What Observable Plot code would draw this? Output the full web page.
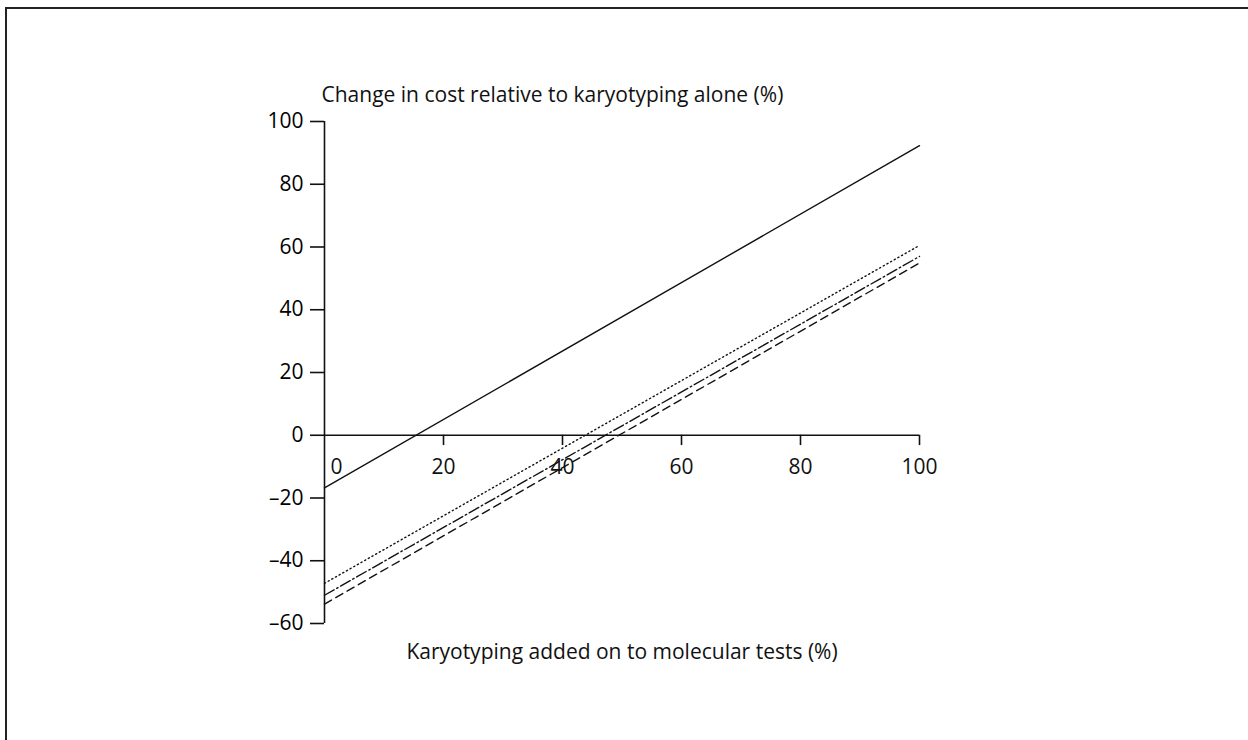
<!DOCTYPE html>
<html>
<head>
<meta charset="utf-8">
<script src="https://cdn.jsdelivr.net/npm/d3@7"></script>
<script src="https://cdn.jsdelivr.net/npm/@observablehq/plot@0.6"></script>
<style>
  html, body { margin: 0; padding: 0; background: #fff; }
  #wrap { position: relative; width: 1248px; height: 740px; overflow: hidden; }
  #frame { position: absolute; left: 5px; top: 7px; width: 1300px; height: 800px;
           border-top: 2px solid #222; border-left: 2px solid #222; }
  #chart { position: absolute; left: 0; top: 0; }
</style>
</head>
<body>
<div id="wrap"><div id="frame"></div><div id="chart"></div></div>
<script>
// Data
const xEnds = [0, 100];
const solidY = [-16.8, 92.3];
const dottedY = [-47.2, 60.5];
const dashDotY = [-51.0, 57.0];
const dashedY = [-53.8, 54.9];
const xTicks = [0, 20, 40, 60, 80, 100];
const yTicks = [-60, -40, -20, 0, 20, 40, 60, 80, 100];
const yTitle = "Change in cost relative to karyotyping alone (%)";
const xTitle = "Karyotyping added on to molecular tests (%)";

const series = [
  {name: "solid", ys: solidY, dash: null},
  {name: "dotted", ys: dottedY, dash: "1.2,3"},
  {name: "dashdot", ys: dashDotY, dash: "11,3,1.5,3"},
  {name: "dashed", ys: dashedY, dash: "8,5"}
];

const fmt = d => d < 0 ? "\u2013" + Math.abs(d) : String(d);
const font = "'Open Sans', Lato, 'DejaVu Sans', sans-serif";
const fs = 21;

const marks = [
  // y axis line and ticks
  Plot.ruleX([0], {y1: -60, y2: 100, stroke: "#111", strokeWidth: 1.6}),
  Plot.axisY(yTicks, {tickSize: 14, tickPadding: 7, tickFormat: fmt, fontSize: fs, stroke: "#111", strokeWidth: 1.6, label: null}),
  // x axis at y = 0
  Plot.ruleY([0], {x1: 0, x2: 100, stroke: "#111", strokeWidth: 1.6}),
  Plot.ruleX(xTicks.filter(d => d > 0), {x: d => d, y1: 0, y2: -3.3, stroke: "#111", strokeWidth: 1.6}),
  Plot.text(xTicks.filter(d => d === 0), {x: d => d, y: 0, dy: 32, dx: 12, text: fmt, fontSize: fs, fill: "#111"}),
  Plot.text(xTicks.filter(d => d > 0), {x: d => d, y: 0, dy: 32, text: fmt, fontSize: fs, fill: "#111"}),
  // titles
  Plot.text([yTitle], {x: 0, y: 100, dy: -26, dx: -3, text: d => d, textAnchor: "start", fontSize: fs, fill: "#111"}),
  Plot.text([xTitle], {x: 50, y: -60, dy: 29, text: d => d, fontSize: fs, fill: "#111"})
];
for (const s of series) {
  const pts = xEnds.map((x, i) => ({x, y: s.ys[i]}));
  marks.push(Plot.line(pts, {x: "x", y: "y", stroke: "#111", strokeWidth: 1.4, strokeDasharray: s.dash}));
}

const chart = Plot.plot({
  width: 1248,
  height: 740,
  marginLeft: 324,
  marginRight: 329,
  marginTop: 121,
  marginBottom: 117,
  style: {fontFamily: font, background: "transparent"},
  x: {domain: [0, 100], axis: null},
  y: {domain: [-60, 100], axis: null},
  marks
});
document.getElementById("chart").appendChild(chart);
</script>
</body>
</html>
